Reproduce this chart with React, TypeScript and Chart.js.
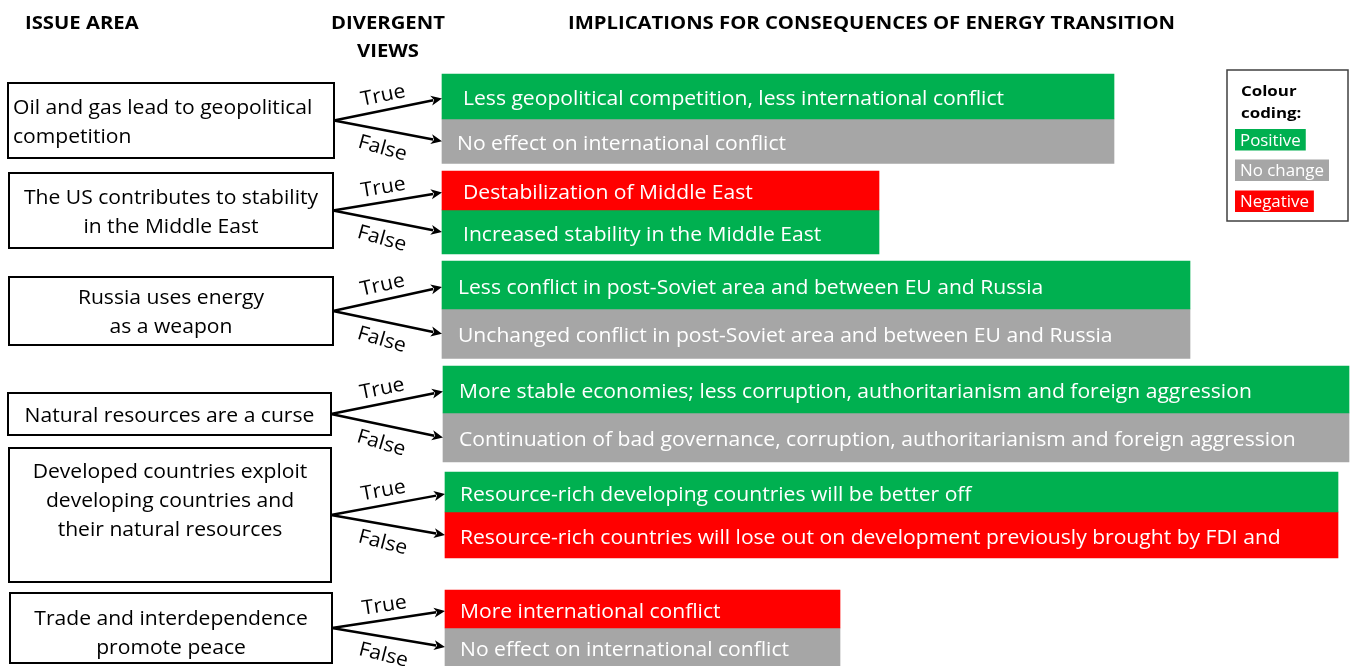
import React, { useEffect, useRef } from "react";
import { Chart, registerables } from "chart.js";

Chart.register(...registerables);

// ---------- data ----------
const columnHeaders = ["ISSUE AREA", "DIVERGENT", "VIEWS", "IMPLICATIONS FOR CONSEQUENCES OF ENERGY TRANSITION"];

const issueAreas: string[][] = [
  ["Oil and gas lead to geopolitical", "competition"],
  ["The US contributes to stability", "in the Middle East"],
  ["Russia uses energy", "as a weapon"],
  ["Natural resources are a curse"],
  ["Developed countries exploit", "developing countries and", "their natural resources"],
  ["Trade and interdependence", "promote peace"],
];

const viewLabels = ["True", "False"];

const trueImplications = [
  "Less geopolitical competition, less international conflict",
  "Destabilization of Middle East",
  "Less conflict in post-Soviet area and between EU and Russia",
  "More stable economies; less corruption, authoritarianism and foreign aggression",
  "Resource-rich developing countries will be better off",
  "More international conflict",
];

const falseImplications = [
  "No effect on international conflict",
  "Increased stability in the Middle East",
  "Unchanged conflict in post-Soviet area and between EU and Russia",
  "Continuation of bad governance, corruption, authoritarianism and foreign aggression",
  "Resource-rich countries will lose out on development previously brought by FDI and",
  "No effect on international conflict",
];

const trueEffects = ["Positive", "Negative", "Positive", "Positive", "Positive", "Negative"];
const falseEffects = ["No change", "Positive", "No change", "No change", "Negative", "No change"];

// bar lengths (axis units)
const implicationLengths = [672, 437, 748, 906, 893, 395];

const effectCategories = ["Positive", "No change", "Negative"];
const legendTitle = ["Colour", "coding:"];

// ---------- layout / style ----------
const W = 1351;
const H = 666;

const EFFECT_COLORS: Record<string, string> = {
  Positive: "#00B050",
  "No change": "#A6A6A6",
  Negative: "#FF0000",
};

const BOXES = [
  { x: 8, y: 83, w: 326, h: 75, align: "left", valign: "middle", dy: 0 },
  { x: 9, y: 173, w: 324, h: 75, align: "center", valign: "middle", dy: 0 },
  { x: 9, y: 277, w: 324, h: 68, align: "center", valign: "middle", dy: 0 },
  { x: 8, y: 393, w: 323, h: 42, align: "center", valign: "middle", dy: 0 },
  { x: 9, y: 448, w: 322, h: 134, align: "center", valign: "top", dy: 22 },
  { x: 10, y: 593, w: 322, h: 70, align: "center", valign: "middle", dy: 4 },
];

// [top, split, bottom] of each group's pair of bars
const ROWS = [
  [74, 119, 163.5],
  [171, 210, 254],
  [261, 309, 358.5],
  [366, 413, 462],
  [472, 512, 558],
  [590, 628, 666],
];
const BAR_START = [442, 442, 442, 443, 445, 445];
const LABEL_INDENT = [
  [21, 15],
  [21, 21],
  [16, 16],
  [16, 16],
  [15, 15],
  [15, 15],
];

const FAMILY = "'Open Sans', 'DejaVu Sans', sans-serif";
const F_BAR = `20px ${FAMILY}`;
const F_BOX = `20px ${FAMILY}`;
const F_VIEW = `20px ${FAMILY}`;
const F_HEAD = `bold 18px ${FAMILY}`;
const F_LEG_T = `bold 15px ${FAMILY}`;
const F_LEG = `16px ${FAMILY}`;
const TEXT_DY = 2;

function drawText(
  ctx: CanvasRenderingContext2D,
  s: string,
  x: number,
  y: number,
  font: string,
  k: number,
  align: CanvasTextAlign = "left",
  color = "#000",
  angle = 0
) {
  ctx.save();
  ctx.translate(x, y);
  if (angle) ctx.rotate(angle);
  ctx.scale(k, 1);
  ctx.font = font;
  ctx.fillStyle = color;
  ctx.textAlign = align;
  ctx.textBaseline = "middle";
  ctx.fillText(s, 0, TEXT_DY);
  ctx.restore();
}

function drawArrow(ctx: CanvasRenderingContext2D, x0: number, y0: number, x1: number, y1: number) {
  const ang = Math.atan2(y1 - y0, x1 - x0);
  const hl = 11;
  const hw = 5;
  const c = Math.cos(ang);
  const s = Math.sin(ang);
  const bx = x1 - hl * c;
  const by = y1 - hl * s;
  ctx.save();
  ctx.strokeStyle = "#000";
  ctx.fillStyle = "#000";
  ctx.lineWidth = 2.5;
  ctx.beginPath();
  ctx.moveTo(x0, y0);
  ctx.lineTo(bx + 2 * c, by + 2 * s);
  ctx.stroke();
  ctx.beginPath();
  ctx.moveTo(x1, y1);
  ctx.lineTo(bx - hw * s, by + hw * c);
  ctx.lineTo(bx + 3 * c, by + 3 * s);
  ctx.lineTo(bx + hw * s, by - hw * c);
  ctx.closePath();
  ctx.fill();
  ctx.restore();
}

const diagramPlugin = {
  id: "diagram",
  afterDatasetsDraw(chart: any) {
    const ctx: CanvasRenderingContext2D = chart.ctx;
    ctx.save();
    // calibration of the substitute font to the original narrow face
    ctx.font = F_BAR;
    const k = 329 / ctx.measureText("No effect on international conflict").width;
    ctx.font = F_HEAD;
    const kb = 607 / ctx.measureText(columnHeaders[3]).width;

    // headers
    drawText(ctx, columnHeaders[0], 25, 22, F_HEAD, kb, "left");
    drawText(ctx, columnHeaders[1], 388, 22, F_HEAD, kb, "center");
    drawText(ctx, columnHeaders[2], 388, 50, F_HEAD, kb, "center");
    drawText(ctx, columnHeaders[3], 568, 22, F_HEAD, kb, "left");

    const lineH = 29;
    issueAreas.forEach((lines, g) => {
      const b = BOXES[g];
      ctx.save();
      ctx.strokeStyle = "#000";
      ctx.lineWidth = 2;
      ctx.strokeRect(b.x, b.y, b.w, b.h);
      ctx.restore();
      const n = lines.length;
      const y0 =
        b.valign === "top" ? b.y + b.dy : b.y + b.h / 2 - ((n - 1) * lineH) / 2 + b.dy;
      lines.forEach((ln, i) => {
        const tx = b.align === "left" ? b.x + 5 : b.x + b.w / 2;
        drawText(ctx, ln, tx, y0 + i * lineH, F_BOX, k, b.align as CanvasTextAlign);
      });

      // arrows + bar labels
      const ox = b.x + b.w;
      const oy = b.y + b.h / 2;
      [0, 1].forEach((v) => {
        const meta = chart.getDatasetMeta(g * 2 + v);
        const el: any = meta.data[0];
        const tipX = el.base;
        const tipY = el.y + (v === 0 ? 2 : 0);
        drawArrow(ctx, ox, oy, tipX, tipY);
        const ang = Math.atan2(tipY - oy, tipX - ox);
        const mx = (ox + tipX) / 2 - 2;
        const my = (oy + tipY) / 2;
        const off = v === 0 ? -16 : 16;
        const lx = mx - off * Math.sin(ang);
        const ly = my + off * Math.cos(ang);
        drawText(ctx, viewLabels[v], lx, ly, F_VIEW, k, "center", "#000", v === 0 ? ang : ang + 0.08);

        const text = v === 0 ? trueImplications[g] : falseImplications[g];
        drawText(ctx, text, el.base + LABEL_INDENT[g][v], el.y + 1, F_BAR, k, "left", "#fff");
      });
    });

    // colour-coding legend
    ctx.save();
    ctx.strokeStyle = "#404040";
    ctx.lineWidth = 1.5;
    ctx.strokeRect(1227, 70, 121, 151);
    ctx.restore();
    drawText(ctx, legendTitle[0], 1241, 90, F_LEG_T, kb, "left");
    drawText(ctx, legendTitle[1], 1241, 112, F_LEG_T, kb, "left");
    const swTops = [129, 159.5, 190.5];
    effectCategories.forEach((cat, i) => {
      ctx.font = F_LEG;
      const tw = ctx.measureText(cat).width * k;
      ctx.fillStyle = EFFECT_COLORS[cat];
      ctx.fillRect(1235, swTops[i], tw + 10, 21.5);
      drawText(ctx, cat, 1240, swTops[i] + 10, F_LEG, k, "left", "#fff");
    });
    ctx.restore();
  },
};

export default function App() {
  const ref = useRef<HTMLCanvasElement | null>(null);

  useEffect(() => {
    document.body.style.margin = "0";
    const canvas = ref.current;
    if (!canvas) return;

    const datasets: any[] = [];
    issueAreas.forEach((_, g) => {
      const [top, split, bottom] = ROWS[g];
      const parts = [
        { t: top, b: split, effect: trueEffects[g], label: trueImplications[g] },
        { t: split, b: bottom, effect: falseEffects[g], label: falseImplications[g] },
      ];
      parts.forEach((p) => {
        datasets.push({
          label: p.label,
          data: [{ y: (p.t + p.b) / 2, x: [BAR_START[g], BAR_START[g] + implicationLengths[g]] }],
          backgroundColor: EFFECT_COLORS[p.effect],
          barThickness: p.b - p.t,
          grouped: false,
          borderWidth: 0,
          borderSkipped: false,
        });
      });
    });

    const chart = new Chart(canvas, {
      type: "bar",
      data: { datasets },
      options: {
        indexAxis: "y",
        animation: false,
        responsive: false,
        devicePixelRatio: 1,
        events: [],
        layout: { padding: 0 },
        plugins: {
          legend: { display: false },
          tooltip: { enabled: false },
          title: { display: false },
        },
        scales: {
          x: { type: "linear", min: 0, max: W, display: false, offset: false },
          y: { type: "linear", min: 0, max: H, reverse: true, display: false, offset: false },
        },
      } as any,
      plugins: [diagramPlugin],
    });

    return () => chart.destroy();
  }, []);

  return (
    <div style={{ width: W, height: H, background: "#fff" }}>
      <canvas ref={ref} width={W} height={H} style={{ display: "block", width: W, height: H }} />
    </div>
  );
}
